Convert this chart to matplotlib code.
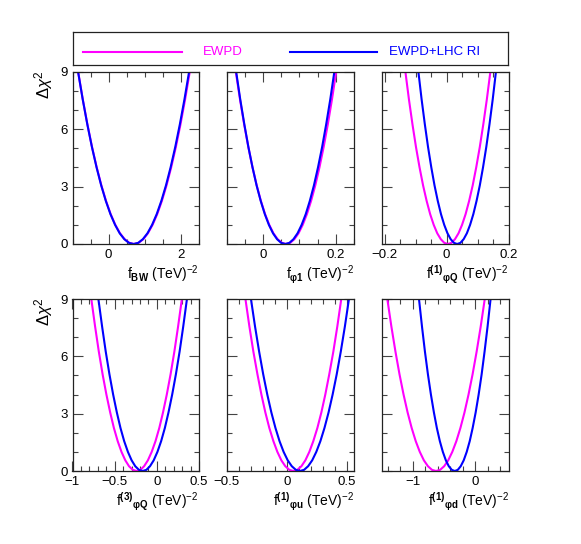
import matplotlib
matplotlib.use("Agg")
import matplotlib.pyplot as plt
from matplotlib.ticker import MultipleLocator, FixedLocator

plt.rcParams['font.family'] = ['Liberation Sans', 'DejaVu Sans']
plt.rcParams['mathtext.fontset'] = 'custom'
plt.rcParams['mathtext.rm'] = 'Liberation Sans'
plt.rcParams['mathtext.it'] = 'Liberation Sans:italic'
plt.rcParams['mathtext.bf'] = 'Liberation Sans:bold'
plt.rcParams['mathtext.default'] = 'regular'

dchi2 = [9, 7.56, 6.25, 5.06, 4, 3.06, 2.25, 1.56, 1, 0.56, 0.25, 0.06, 0,
         0.06, 0.25, 0.56, 1, 1.56, 2.25, 3.06, 4, 5.06, 6.25, 7.56, 9]

series_names = ['EWPD', 'EWPD+LHC RI']
series_colors = ['#ff00ff', '#0000ff']

# x positions (TeV^-2) of each curve at the dchi2 levels above
bw_ewpd = [-0.845, -0.716, -0.588, -0.459, -0.330, -0.201, -0.073, 0.056, 0.185, 0.314, 0.443, 0.571, 0.70,
           0.829, 0.958, 1.086, 1.215, 1.344, 1.473, 1.601, 1.730, 1.859, 1.988, 2.116, 2.245]
bw_lhc = [-0.846, -0.718, -0.590, -0.462, -0.334, -0.206, -0.078, 0.050, 0.178, 0.306, 0.434, 0.562, 0.69,
          0.818, 0.946, 1.074, 1.202, 1.330, 1.458, 1.586, 1.714, 1.842, 1.970, 2.098, 2.226]

p1_ewpd = [-0.075, -0.0635, -0.052, -0.0405, -0.029, -0.0175, -0.006, 0.0055, 0.017, 0.0285, 0.040, 0.0515, 0.063,
           0.0745, 0.086, 0.0975, 0.109, 0.1205, 0.132, 0.1435, 0.155, 0.1665, 0.178, 0.1895, 0.201]
p1_lhc = [-0.074, -0.0628, -0.0515, -0.0403, -0.029, -0.0178, -0.0065, 0.0048, 0.016, 0.0273, 0.0385, 0.0498, 0.061,
          0.0723, 0.0835, 0.0948, 0.106, 0.1173, 0.1285, 0.1398, 0.151, 0.1623, 0.1735, 0.1848, 0.196]

pq1_ewpd = [-0.1334, -0.1220, -0.1105, -0.0991, -0.0876, -0.0762, -0.0647, -0.0533, -0.0418, -0.0304, -0.0189,
            -0.0075, 0.004,
            0.0155, 0.0269, 0.0384, 0.0498, 0.0613, 0.0727, 0.0842, 0.0956, 0.1071, 0.1185, 0.1300, 0.1414]
pq1_lhc = [-0.0914, -0.0810, -0.0705, -0.0601, -0.0496, -0.0392, -0.0287, -0.0183, -0.0078, 0.0027, 0.0131,
           0.0236, 0.034,
           0.0445, 0.0549, 0.0654, 0.0758, 0.0863, 0.0967, 0.1072, 0.1176, 0.1281, 0.1385, 0.1490, 0.1594]

pq3_ewpd = [-0.777, -0.732, -0.688, -0.643, -0.598, -0.553, -0.509, -0.464, -0.419, -0.374, -0.330, -0.285, -0.24,
            -0.195, -0.151, -0.106, -0.061, -0.016, 0.029, 0.073, 0.118, 0.163, 0.208, 0.252, 0.297]
pq3_lhc = [-0.693, -0.649, -0.606, -0.562, -0.518, -0.474, -0.431, -0.387, -0.343, -0.299, -0.256, -0.212, -0.168,
           -0.124, -0.081, -0.037, 0.007, 0.051, 0.095, 0.138, 0.182, 0.226, 0.270, 0.313, 0.357]

pu1_ewpd = [-0.344, -0.311, -0.278, -0.244, -0.211, -0.178, -0.145, -0.111, -0.078, -0.045, -0.012, 0.022, 0.055,
            0.088, 0.122, 0.155, 0.188, 0.221, 0.255, 0.288, 0.321, 0.354, 0.388, 0.421, 0.454]
pu1_lhc = [-0.298, -0.264, -0.230, -0.196, -0.162, -0.128, -0.094, -0.060, -0.026, 0.008, 0.042, 0.076, 0.11,
           0.144, 0.178, 0.212, 0.246, 0.280, 0.314, 0.348, 0.382, 0.416, 0.450, 0.484, 0.518]

pd1_ewpd = [-1.41, -1.345, -1.28, -1.215, -1.15, -1.085, -1.02, -0.955, -0.89, -0.825, -0.76, -0.695, -0.63,
            -0.565, -0.50, -0.435, -0.37, -0.305, -0.24, -0.175, -0.11, -0.045, 0.02, 0.085, 0.15]
pd1_lhc = [-0.903, -0.855, -0.808, -0.760, -0.712, -0.664, -0.617, -0.569, -0.521, -0.473, -0.426, -0.378, -0.33,
           -0.282, -0.235, -0.187, -0.139, -0.091, -0.044, 0.004, 0.052, 0.100, 0.147, 0.195, 0.243]

xlabels = [r'f$_{\mathbf{BW}}$ (TeV)$^{-2}$',
           r'f$_{\mathbf{\varphi 1}}$ (TeV)$^{-2}$',
           r'f$^{\mathbf{(1)}}{}_{\mathbf{\varphi Q}}$ (TeV)$^{-2}$',
           r'f$^{\mathbf{(3)}}{}_{\mathbf{\varphi Q}}$ (TeV)$^{-2}$',
           r'f$^{\mathbf{(1)}}{}_{\mathbf{\varphi u}}$ (TeV)$^{-2}$',
           r'f$^{\mathbf{(1)}}{}_{\mathbf{\varphi d}}$ (TeV)$^{-2}$']
curves = [(bw_ewpd, bw_lhc), (p1_ewpd, p1_lhc), (pq1_ewpd, pq1_lhc),
          (pq3_ewpd, pq3_lhc), (pu1_ewpd, pu1_lhc), (pd1_ewpd, pd1_lhc)]
xlims = [(-1.0, 2.5), (-0.1, 0.25), (-0.21, 0.2),
         (-1.0, 0.5), (-0.5, 0.56), (-1.5, 0.53)]
xmajor = [[0, 2], [0, 0.2], [-0.2, 0, 0.2],
          [-1, -0.5, 0, 0.5], [-0.5, 0, 0.5], [-1, 0]]
xminor = [0.5, 0.05, 0.05, 0.1, 0.1, 0.2]
ymajor = [0, 3, 6, 9]

W, H = 581, 544
fig = plt.figure(figsize=(W / 100, H / 100), dpi=100)

col_x = [(72.5, 199.0), (226.7, 354.0), (381.7, 508.5)]
row_y = [(71.7, 244.0), (299.0, 471.0)]

for i in range(6):
    r, c = divmod(i, 3)
    x0, x1 = col_x[c]
    y0, y1 = row_y[r]
    ax = fig.add_axes([x0 / W, 1 - y1 / H, (x1 - x0) / W, (y1 - y0) / H])
    for xs, color in zip(curves[i], series_colors):
        ax.plot(xs, dchi2, color=color, lw=1.5, solid_joinstyle='round')
    ax.set_xlim(*xlims[i])
    ax.set_ylim(0, 9)
    ax.xaxis.set_major_locator(FixedLocator(xmajor[i]))
    ax.xaxis.set_minor_locator(MultipleLocator(xminor[i]))
    ax.yaxis.set_major_locator(FixedLocator(ymajor))
    ax.yaxis.set_minor_locator(MultipleLocator(1))
    ax.xaxis.set_major_formatter(plt.FuncFormatter(lambda v, p: f'{v:g}'.replace('-', '\u2212')))
    ax.tick_params(which='both', direction='in', top=True, right=True,
                   labelsize=9.5, width=0.8, color='#444444')
    ax.tick_params(which='major', length=7.5, pad=3.5)
    ax.tick_params(which='minor', length=3.8)
    if c != 0:
        ax.tick_params(axis='y', labelleft=False)
    for s in ax.spines.values():
        s.set_linewidth(0.9)
        s.set_color('#222222')
    yb = 279 if r == 0 else 506
    fig.text(x1 / W, 1 - yb / H, xlabels[i], ha='right', va='baseline', fontsize=10)
    if c == 0:
        fig.text(44 / W, 1 - (y0 - 2) / H, r'$\Delta\mathit{\chi}^{2}$', rotation=90,
                 ha='center', va='top', fontsize=12)

# legend box
lx0, lx1, ly0, ly1 = 72.7, 507.7, 32.3, 65.0
lax = fig.add_axes([lx0 / W, 1 - ly1 / H, (lx1 - lx0) / W, (ly1 - ly0) / H])
lax.set_xlim(0, 1)
lax.set_ylim(0, 1)
lax.set_xticks([])
lax.set_yticks([])
for s in lax.spines.values():
    s.set_linewidth(0.9)
    s.set_color('#222222')
seg = [(0.0244, 0.2506, 0.300), (0.4995, 0.699, 0.728)]
for (a, b, t), name, color in zip(seg, series_names, series_colors):
    lax.plot([a, b], [0.41, 0.41], color=color, lw=1.5)
    lax.text(t, 0.41, name, color=color, fontsize=9.5, va='center', ha='left')

fig.savefig('out.png', dpi=100)
